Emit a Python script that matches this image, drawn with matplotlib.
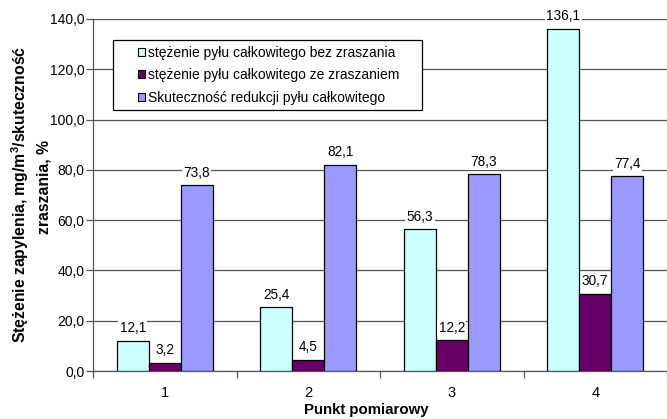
import numpy as np
import matplotlib.pyplot as plt
from matplotlib.patches import Rectangle
from matplotlib.ticker import FuncFormatter, FixedLocator

plt.rcParams['font.family'] = ['Liberation Sans', 'DejaVu Sans']

categories = ['1', '2', '3', '4']
bez_zraszania = [12.1, 25.4, 56.3, 136.1]
ze_zraszaniem = [3.2, 4.5, 12.2, 30.7]
skutecznosc = [73.8, 82.1, 78.3, 77.4]

series = [
    ('stężenie pyłu całkowitego bez zraszania', bez_zraszania, '#CCFFFF'),
    ('stężenie pyłu całkowitego ze zraszaniem', ze_zraszaniem, '#660066'),
    ('Skuteczność redukcji pyłu całkowitego', skutecznosc, '#9999FF'),
]

W, H = 667, 419
fig = plt.figure(figsize=(W / 100, H / 100), dpi=100)
ax_left, ax_top, ax_w, ax_h = 93, 19, 574, 352
ax = fig.add_axes([ax_left / W, (H - ax_top - ax_h) / H, ax_w / W, ax_h / H])

x = np.arange(len(categories))
width = 2 / 9
fmt = lambda v: f'{v:.1f}'.replace('.', ',')

for i, (name, vals, color) in enumerate(series):
    pos = x + (i - 1) * width
    ax.bar(pos, vals, width, color=color, edgecolor='black',
           linewidth=0.9, label=name, zorder=3)
    for xp, v in zip(pos, vals):
        ax.annotate(fmt(v), (xp, v), xytext=(0, 4), textcoords='offset points',
                    ha='center', va='bottom', fontsize=9.8, zorder=4,
                    annotation_clip=False,
                    bbox=dict(boxstyle='square,pad=0.1', fc='white', ec='none'))

ax.set_xlim(-0.5, len(categories) - 0.5)
ax.set_ylim(0, 140)
ax.set_yticks(np.arange(0, 141, 20))
ax.yaxis.set_major_formatter(FuncFormatter(lambda v, p: fmt(v)))
ax.yaxis.grid(True, color='#555555', linewidth=0.9, zorder=0)
ax.set_axisbelow(True)

ax.set_xticks(x)
ax.set_xticklabels(categories, fontsize=10.5)
ax.tick_params(axis='x', length=0, pad=11)
ax.xaxis.set_minor_locator(FixedLocator(np.arange(-0.5, len(categories), 1.0)))
ax.tick_params(axis='x', which='minor', length=5, width=0.9, color='#555555')
ax.tick_params(axis='y', length=5, width=0.9, color='#555555', labelsize=10, pad=1)

for s in ['top', 'right']:
    ax.spines[s].set_visible(False)
for s in ['left', 'bottom']:
    ax.spines[s].set_color('#555555')
    ax.spines[s].set_linewidth(0.9)

fig.text(0.549, 0.004, 'Punkt pomiarowy', ha='center', va='bottom',
         fontsize=10.8, fontweight='bold')
# two-line rotated axis title, each line centred separately
fig.text(0.030, 0.535, 'Stężenie zapylenia, mg/m$^\\mathregular{3}$/skuteczność',
         rotation=90, ha='center', va='center',
         fontsize=11.3, fontweight='bold')
fig.text(0.066, 0.553, 'zraszania, %',
         rotation=90, ha='center', va='center',
         fontsize=11.3, fontweight='bold')

# legend frame (wider than its content, with extra room on the right)
box_l, box_r, box_t, box_b = 113, 422, 40, 110
ax.add_patch(Rectangle(((box_l - ax_left) / ax_w, (ax_top + ax_h - box_b) / ax_h),
                       (box_r - box_l) / ax_w, (box_b - box_t) / ax_h,
                       transform=ax.transAxes, facecolor='white',
                       edgecolor='black', linewidth=0.9, zorder=5,
                       clip_on=False))

leg = ax.legend(loc='upper left',
                bbox_to_anchor=((138 - ax_left) / ax_w, 1 - (46 - ax_top) / ax_h),
                fontsize=10, frameon=False, handlelength=0.5, handleheight=0.5,
                handletextpad=0.25, labelspacing=0.6, borderpad=0,
                borderaxespad=0)
for h in leg.legend_handles:
    h.set_linewidth(0.8)
leg.set_zorder(6)

fig.savefig('out.png', dpi=100)
